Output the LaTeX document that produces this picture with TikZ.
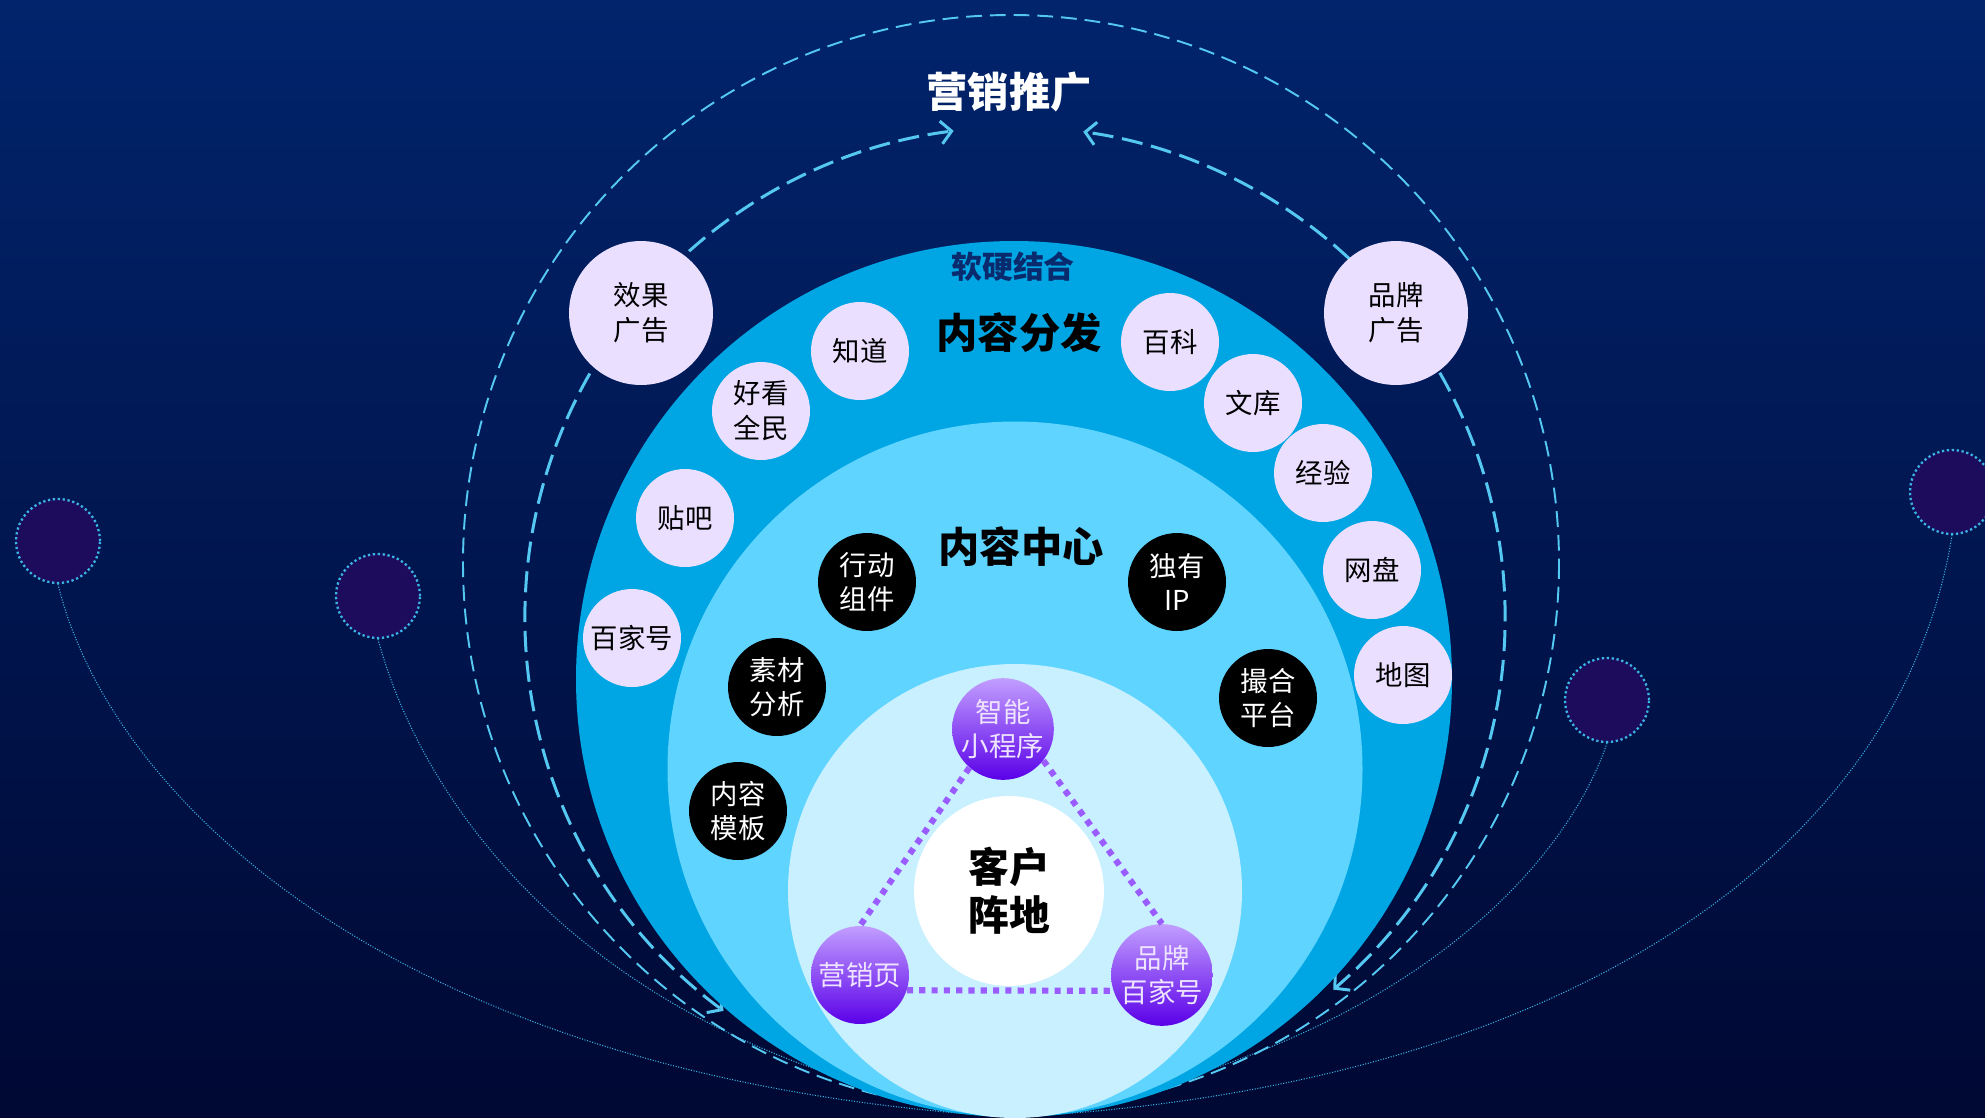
\documentclass[tikz,border=0pt]{standalone}
\usepackage{fontspec}
\setmainfont{Noto Sans CJK SC}
\usetikzlibrary{arrows.meta}
\definecolor{bgtop}{HTML}{01246C}
\definecolor{bgmid}{HTML}{00134F}
\definecolor{bgbot}{HTML}{000833}
\definecolor{ringA}{HTML}{00A6E3}
\definecolor{ringB}{HTML}{5FD4FF}
\definecolor{ringC}{HTML}{C8F0FF}
\definecolor{lav}{HTML}{EADFFF}
\definecolor{dashc}{HTML}{55C8F2}
\definecolor{dotc}{HTML}{3AB4E4}
\definecolor{deco}{HTML}{1D0C5C}
\definecolor{purtop}{HTML}{C29EFF}
\definecolor{purbot}{HTML}{5A00E8}
\definecolor{purline}{HTML}{9B5CFF}
\definecolor{navytxt}{HTML}{0A2A6E}
\definecolor{ptext}{HTML}{EEE4FF}
\begin{document}
\begin{tikzpicture}[x=0.02cm,y=-0.02cm,
  nodefont/.style={font=\fontsize{15.6}{19.8}\selectfont},
  lavnode/.style={circle,fill=lav,text=black,minimum size=1.96cm,inner sep=0pt,align=center,nodefont},
  bignode/.style={lavnode,minimum size=2.88cm},
  blknode/.style={circle,fill=black,text=white,minimum size=1.96cm,inner sep=0pt,align=center,nodefont},
  purnode/.style={circle,top color=purtop,bottom color=purbot,text=ptext,minimum size=1.96cm,inner sep=0pt,align=center,nodefont},
  deconode/.style={circle,fill=deco,draw=dotc,line width=1.3pt,dash pattern=on 1.3pt off 1.5pt,minimum size=1.68cm,inner sep=0pt},
  thincurve/.style={draw=dotc,line width=0.6pt,dash pattern=on 0.6pt off 0.9pt},
  outerdash/.style={draw=dashc,line width=1.1pt,dash pattern=on 9pt off 4.5pt},
  innerdash/.style={draw=dashc,line width=1.7pt,dash pattern=on 12pt off 5pt,-{Straight Barb[length=6pt,width=13pt]}},
  purdots/.style={draw=purline,line width=3.5pt,dash pattern=on 3.5pt off 3.5pt},
  bigtitle/.style={font=\fontsize{23.5}{28}\selectfont\bfseries}
]
\useasboundingbox (0,0) rectangle (1985,1117);
\clip (0,0) rectangle (1985,1117);
% background
\shade[top color=bgtop, middle color=bgmid, bottom color=bgbot] (0,0) rectangle (1985,1117);

% decorative circles and thin curves
\coordinate (bot) at (1012,1117);
\node[deconode] (d1) at (58,541) {};
\node[deconode] (d2) at (378,596) {};
\node[deconode] (d3) at (1607,700) {};
\node[deconode] (d4) at (1952,492) {};
\draw[thincurve] (d1.south) .. controls (110,800) and (400,1080) .. (bot);
\draw[thincurve] (d2.south) .. controls (430,830) and (620,1060) .. (bot);
\draw[thincurve] (d3.south) .. controls (1560,880) and (1380,1060) .. (bot);
\draw[thincurve] (d4.south) .. controls (1900,860) and (1550,1090) .. (bot);

% dashed circles
\coordinate (co) at (1011,563);
\coordinate (ci) at (1015,617);
\draw[outerdash] (co) circle[radius=548];
\draw[innerdash] ([shift={(-131.7:490)}]ci) arc[start angle=-131.7, end angle=-97.2, radius=490];
\draw[innerdash] ([shift={(-47:490)}]ci) arc[start angle=-47, end angle=-82, radius=490];
\draw[innerdash] ([shift={(209.8:490)}]ci) arc[start angle=209.8, end angle=126.5, radius=490];
\draw[innerdash] ([shift={(-29.9:490)}]ci) arc[start angle=-29.9, end angle=49.5, radius=490];

% rings
\fill[ringA] (1014,679) circle[radius=438];
\fill[ringB] (1015,769) circle[radius=347.5];
\fill[ringC] (1015,891) circle[radius=227];

% titles
\node[bigtitle,text=white] (t1) at (1009,92) {营销推广};
\node[font=\fontsize{17.6}{21}\selectfont\bfseries,text=navytxt] (t2) at (1013,267) {软硬结合};
\node[bigtitle,text=black] (t3) at (1019,333) {内容分发};
\node[bigtitle,text=black] (t4) at (1021,547) {内容中心};
\node[circle,fill=white,minimum size=3.8cm,inner sep=0pt,align=center,
      font=\fontsize{23.2}{27.5}\selectfont\bfseries] (core) at (1009,891) {客户\\阵地};

% ad nodes
\node[bignode] (xg) at (641,313) {效果\\广告};
\node[bignode] (pg) at (1396,313) {品牌\\广告};

% distribution nodes
\node[lavnode] (zd) at (860,351) {知道};
\node[lavnode] (hk) at (761,411) {好看\\全民};
\node[lavnode] (tb) at (685,518) {贴吧};
\node[lavnode] (bj) at (632,638) {百家号};
\node[lavnode] (bk) at (1170,342) {百科};
\node[lavnode] (wk) at (1253,403) {文库};
\node[lavnode] (jy) at (1323,473) {经验};
\node[lavnode] (wp) at (1372,570) {网盘};
\node[lavnode] (dt) at (1403,675) {地图};

% content center nodes
\node[blknode] (xd) at (867,582) {行动\\组件};
\node[blknode] (sc) at (777,687) {素材\\分析};
\node[blknode] (mb) at (738,811) {内容\\模板};
\node[blknode] (ip) at (1177,582) {独有\\IP};
\node[blknode] (ch) at (1268,698) {撮合\\平台};

% customer nodes
\node[purnode] (zn) at (1003,729) {智能\\小程序};
\node[purnode] (yx) at (860,975) {营销页};
\node[purnode] (pp) at (1162,975) {品牌\\百家号};
\draw[purdots] (zn.229) -- (yx.north);
\draw[purdots] (zn.322) -- (pp.north);
\draw[purdots] (yx.-18) -- (pp.198);
\end{tikzpicture}
\end{document}
